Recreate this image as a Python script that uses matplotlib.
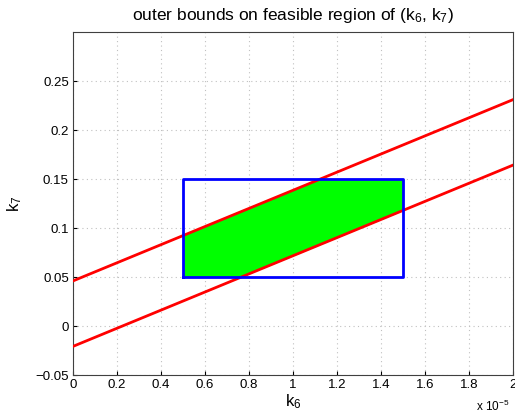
import matplotlib
matplotlib.use("Agg")
import matplotlib.pyplot as plt
import numpy as np

plt.rcParams["font.family"] = ["Liberation Sans", "DejaVu Sans"]
plt.rcParams["mathtext.default"] = "regular"

# bounding lines k7 = slope * k6 + intercept
line_slope = 9250.0
intercepts = [0.046, -0.0208]

# outer box on (k6, k7)
box_k6 = [0.5e-5, 1.5e-5]
box_k7 = [0.05, 0.15]

x_ticks = [0, 0.2, 0.4, 0.6, 0.8, 1, 1.2, 1.4, 1.6, 1.8, 2]
y_ticks = [-0.05, 0, 0.05, 0.1, 0.15, 0.2, 0.25]

fig = plt.figure(figsize=(5.15, 4.19), dpi=100)
ax = fig.add_axes([0.1417, 0.105, 0.8545, 0.8186])

# feasible region: inside box and between the two lines
xs = np.linspace(box_k6[0], box_k6[1], 400)
upper = np.clip(line_slope * xs + intercepts[0], box_k7[0], box_k7[1])
lower = np.clip(line_slope * xs + intercepts[1], box_k7[0], box_k7[1])
ax.fill_between(xs, lower, upper, color="#00ff00", linewidth=0, zorder=2)

xl = np.array([0, 2e-5])
for b in intercepts:
    ax.plot(xl, line_slope * xl + b, color="red", lw=2, zorder=3)

bx = [box_k6[0], box_k6[1], box_k6[1], box_k6[0], box_k6[0]]
by = [box_k7[0], box_k7[0], box_k7[1], box_k7[1], box_k7[0]]
ax.plot(bx, by, color="blue", lw=2, zorder=4)

ax.set_xlim(0, 2e-5)
ax.set_ylim(-0.05, 0.3)
ax.set_xticks([t * 1e-5 for t in x_ticks])
ax.set_xticklabels([f"{t:g}" for t in x_ticks])
ax.set_yticks(y_ticks)
ax.set_yticklabels([f"{t:g}".replace("-", "\u2212") for t in y_ticks])
ax.tick_params(direction="in", length=3, labelsize=9.5, pad=3)
ax.grid(True, linestyle=(0, (1, 3)), color="#c0c0c0", linewidth=0.8)
for s in ax.spines.values():
    s.set_color("#404040")

ax.set_xlabel("k$_6$", fontsize=12, labelpad=1)
ax.set_ylabel("k$_7$", fontsize=12, labelpad=8)
ax.set_title("outer bounds on feasible region of (k$_6$, k$_7$)", fontsize=12.5, pad=9)
fig.text(0.925, 0.018, "x 10$^{-5}$", fontsize=8.5)

fig.savefig("out.png", dpi=100)
